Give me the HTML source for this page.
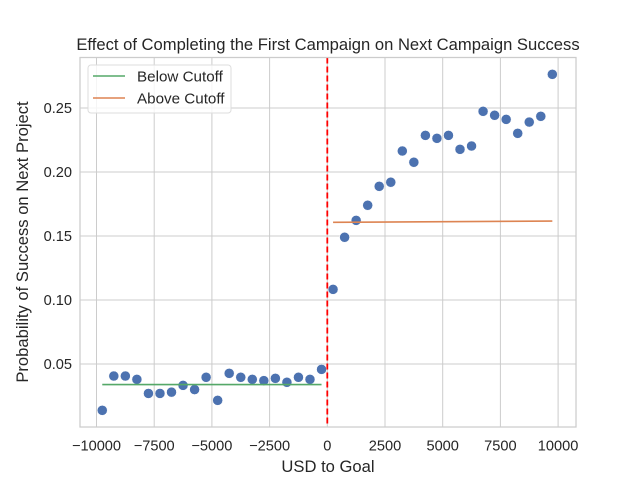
<!DOCTYPE html>
<html><head><meta charset="utf-8"><style>
body{margin:0;background:#fff;}
svg{display:block;font-family:"Liberation Sans","DejaVu Sans",sans-serif;}
</style></head><body>
<svg id="chart" width="640" height="480" viewBox="0 0 640 480">
<rect x="0" y="0" width="640" height="480" fill="#fff"/>
<g id="grid"></g>
<g id="marks"></g>
<rect x="80" y="57.5" width="496" height="369.5" fill="none" stroke="#ccc" stroke-width="1.25"/>
<g id="ticks"></g>
<text x="328" y="50" font-size="16.6" text-anchor="middle" fill="#262626">Effect of Completing the First Campaign on Next Campaign Success</text>
<text x="328" y="472" font-size="16.6" text-anchor="middle" fill="#262626">USD to Goal</text>
<text transform="translate(28,242) rotate(-90)" font-size="16.6" text-anchor="middle" fill="#262626">Probability of Success on Next Project</text>
<g>
<rect x="88" y="65" width="143" height="48" rx="3" fill="#fff" fill-opacity="0.8" stroke="#ddd"/>
<line x1="93" y1="76" x2="125" y2="76" stroke="#55a868" stroke-width="1.5"/>
<text x="137" y="81.5" font-size="15.2" fill="#262626">Below Cutoff</text>
<line x1="93" y1="98" x2="125" y2="98" stroke="#dd8452" stroke-width="1.5"/>
<text x="137" y="103.5" font-size="15.2" fill="#262626">Above Cutoff</text>
</g>
</svg>
<script>
const xBins = [-9750,-9250,-8750,-8250,-7750,-7250,-6750,-6250,-5750,-5250,-4750,-4250,-3750,-3250,-2750,-2250,-1750,-1250,-750,-250,250,750,1250,1750,2250,2750,3250,3750,4250,4750,5250,5750,6250,6750,7250,7750,8250,8750,9250,9750];
const successRate = [0.0138,0.0406,0.0406,0.038,0.027,0.027,0.028,0.0333,0.030,0.0396,0.0216,0.0427,0.0396,0.038,0.037,0.0388,0.0357,0.0396,0.038,0.0458,0.1083,0.149,0.1622,0.174,0.1888,0.192,0.2164,0.2076,0.2286,0.2263,0.2286,0.2177,0.2203,0.2474,0.2443,0.2411,0.2302,0.239,0.2435,0.2763];
const belowFitX = [-9750,-250];
const belowFitY = [0.0339,0.0339];
const aboveFitX = [250,9750];
const aboveFitY = [0.1607,0.1617];
const xTicks = [-10000,-7500,-5000,-2500,0,2500,5000,7500,10000];
const yTicks = [0.05,0.10,0.15,0.20,0.25];
const cutoff = 0;

const X = v => 327.3 + v*0.02308;
const Y = v => 428 - v*1280;
const NS = "http://www.w3.org/2000/svg";
function mk(tag, attrs, parent){const e=document.createElementNS(NS,tag);for(const k in attrs)e.setAttribute(k,attrs[k]);document.getElementById(parent).appendChild(e);return e;}

xTicks.forEach(t=>{
  const g=mk('line',{x1:X(t),x2:X(t),y1:57.5,y2:427,stroke:'#ccc','stroke-width':1},'grid');
  
  
  const l=mk('text',{x:X(t),y:450.5,'font-size':14.6,'text-anchor':'middle',fill:'#262626'},'ticks');
  l.textContent=(t<0?'\u2212'+(-t):String(t));
  
  
});
yTicks.forEach(t=>{
  const g=mk('line',{x1:80,x2:576,y1:Y(t),y2:Y(t),stroke:'#ccc','stroke-width':1},'grid');
  
  
  const l=mk('text',{x:72,y:Y(t)+5,'font-size':14.6,'text-anchor':'end',fill:'#262626'},'ticks');
  l.textContent=t.toFixed(2);
  
  
});
xBins.forEach((x,i)=>{
  const c=mk('circle',{cx:X(x),cy:Y(successRate[i]),r:5,fill:'#4c72b0',stroke:'#fff','stroke-width':0.5},'marks');
  
  
});
const lb=mk('line',{x1:X(belowFitX[0]),y1:Y(belowFitY[0]),x2:X(belowFitX[1]),y2:Y(belowFitY[1]),stroke:'#55a868','stroke-width':1.6},'marks');


const la=mk('line',{x1:X(aboveFitX[0]),y1:Y(aboveFitY[0]),x2:X(aboveFitX[1]),y2:Y(aboveFitY[1]),stroke:'#dd8452','stroke-width':1.6},'marks');


const cl=mk('line',{x1:X(cutoff),x2:X(cutoff),y1:57.5,y2:427,stroke:'#ff0000','stroke-width':1.8,'stroke-dasharray':'6,3'},'marks');


</script>
</body></html>
